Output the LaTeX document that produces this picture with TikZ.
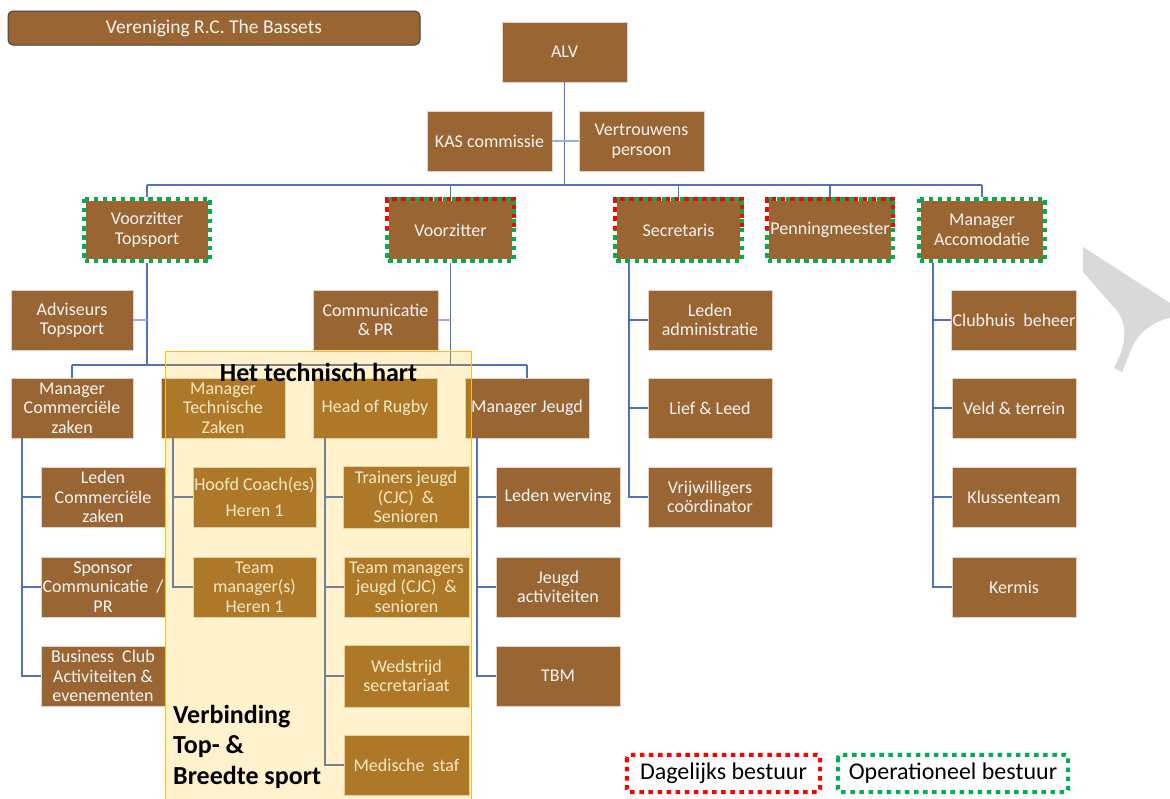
\documentclass[tikz,border=0pt]{standalone}
\usepackage{fontspec}
\setmainfont{Carlito}
\definecolor{brownbox}{RGB}{153,102,51}
\definecolor{boxtext}{RGB}{244,244,244}
\definecolor{linec}{RGB}{82,114,182}
\definecolor{linelight}{RGB}{150,175,222}
\definecolor{dred}{RGB}{255,0,0}
\definecolor{dgreen}{RGB}{0,176,80}
\definecolor{ovl}{RGB}{255,192,0}
\definecolor{wm}{RGB}{217,217,217}
\newcommand\boxfont{\fontsize{18}{19.5}\selectfont}
\begin{document}
\begin{tikzpicture}[x=1pt,y=-1pt,
  box/.style={draw=white!72!brownbox, line width=0.6pt, fill=brownbox, text=boxtext,
    minimum width=124pt, minimum height=60pt, inner sep=1pt, align=center, font=\boxfont},
  lvltwo/.style={box, draw=none, minimum width=126pt, minimum height=62pt},
  trunk/.style={draw=linec, line width=1.3pt},
  branch/.style={draw=linelight, line width=1.3pt},
  greendots/.style={draw=dgreen, line width=4pt, dash pattern=on 4.5pt off 4.6pt},
  reddots/.style={draw=dred, line width=4pt, dash pattern=on 4.5pt off 4.6pt},
  whiteframe/.style={draw=white, line width=4pt},
  bigbold/.style={font=\fontsize{26}{30.5}\selectfont\bfseries, text=black},
  legendtext/.style={font=\fontsize{24}{28}\selectfont, text=black, inner sep=0pt}
]
\useasboundingbox (0,0) rectangle (1170,798);

% watermark shape
\fill[wm] (1083,247) -- (1170,303) -- (1170,318) .. controls (1150,322) and (1137,335) .. (1131,350)
  -- (1122,372) -- (1114,368) .. controls (1126,345) and (1128,328) .. (1118,312) -- (1083,272) -- cycle;

% title
\node[draw=black!75, line width=1pt, fill=brownbox, rounded corners=5pt, text=boxtext,
  minimum width=412pt, minimum height=34pt, inner sep=0pt, font=\fontsize{19.5}{22}\selectfont]
  (title) at (214,28) {Vereniging R.C. The Bassets};

% top
\node[box, minimum width=125pt] (alv) at (564.5,52) {ALV};
\node[box, minimum width=125pt] (kas) at (489.5,141) {KAS commissie};
\node[box, minimum width=125pt] (ver) at (641.5,141) {Vertrouwens\\persoon};

% level two
\node[lvltwo] (vzt) at (147,230) {Voorzitter\\Topsport};
\node[lvltwo] (vz)  at (450.5,230) {Voorzitter};
\node[lvltwo] (sec) at (678.5,230) {Secretaris};
\node[lvltwo] (pm)  at (830,230) {Penningmeester};
\node[lvltwo] (ma)  at (982,230) {Manager\\Accomodatie};

% row 320
\node[box, minimum width=122pt] (adv) at (72,320) {Adviseurs\\Topsport};
\node[box, minimum width=125pt] (com) at (375.5,320) {Communicatie\\\&~PR};
\node[box] (la)  at (710,320) {Leden\\administratie};
\node[box] (cb)  at (1014,320) {Clubhuis\ \ beheer};

% row 408
\node[box, minimum width=122pt] (mcz) at (72,408) {Manager\\Commerciële\\zaken};
\node[box] (mtz) at (223,408) {Manager\\Technische\\Zaken};
\node[box] (hor) at (375,408) {Head of Rugby};
\node[box] (mj)  at (527,408) {Manager Jeugd};
\node[box] (ll)  at (710,408) {Lief \& Leed};
\node[box] (vt)  at (1014,408) {Veld \& terrein};

% row 497
\node[box] (lcz) at (103,497) {Leden\\Commerciële\\zaken};
\node[box, minimum width=123pt] (hc)  at (254.5,497) {Hoofd Coach(es)\\[7pt]Heren 1};
\node[box, minimum width=126pt, minimum height=62pt] (tj)  at (406,497) {Trainers jeugd\\(CJC)~ \&\\Senioren};
\node[box] (lw)  at (558,497) {Leden werving};
\node[box] (vc)  at (710,497) {Vrijwilligers\\coördinator};
\node[box] (kt)  at (1014,497) {Klussenteam};

% row 587
\node[box] (sc)  at (103,587) {Sponsor\\Communicatie~ /\\PR};
\node[box, minimum width=123pt] (tm)  at (254.5,587) {Team\\manager(s)\\Heren 1};
\node[box, minimum width=125pt] (tmj) at (406.5,587) {Team managers\\jeugd (CJC)~ \&\\senioren};
\node[box] (ja)  at (558,587) {Jeugd\\activiteiten};
\node[box] (km)  at (1014,587) {Kermis};

% row 676
\node[box] (bc)  at (103,676) {Business~ Club\\Activiteiten \&\\evenementen};
\node[box, minimum width=125pt, minimum height=62pt] (ws)  at (406.5,676) {Wedstrijd\\secretariaat};
\node[box] (tbm) at (558,676) {TBM};

% row 765
\node[box, minimum width=125pt] (ms)  at (406.5,765) {Medische~ staf};

% bus coordinates
\coordinate (busa) at (0,185);
\coordinate (busb) at (0,365);

% top connectors
\draw[trunk] (alv.south) -- (alv.south |- busa);
\draw[branch] (kas.east) -- (ver.west);
\draw[trunk] (vzt.north |- busa) -- (ma.north |- busa);
\foreach \n in {vzt,vz,sec,pm,ma} {\draw[trunk] (\n.north |- busa) -- (\n.north);}

% voorzitter topsport / voorzitter trunks
\draw[trunk] (vzt.south) -- (vzt.south |- busb);
\draw[branch] (adv.east) -- (adv.east -| vzt.south);
\draw[trunk] (vz.south) -- (vz.south |- busb);
\draw[branch] (com.east) -- (com.east -| vz.south);
\draw[trunk] (mcz.north |- busb) -- (mj.north |- busb);
\foreach \n in {mcz,mtz,hor,mj} {\draw[trunk] (\n.north |- busb) -- (\n.north);}

% sub trunks
\coordinate (tmcz) at ([xshift=-50pt]mcz.south);
\draw[trunk] (tmcz) |- (bc.west);
\foreach \n in {lcz,sc} {\draw[trunk] (tmcz |- \n.west) -- (\n.west);}

\coordinate (tmtz) at ([xshift=-50pt]mtz.south);
\draw[trunk] (tmtz) |- (tm.west);
\draw[trunk] (tmtz |- hc.west) -- (hc.west);

\coordinate (thor) at ([xshift=-50pt]hor.south);
\draw[trunk] (thor) |- (ms.west);
\foreach \n in {tj,tmj,ws} {\draw[trunk] (thor |- \n.west) -- (\n.west);}

\coordinate (tmj) at ([xshift=-50pt]mj.south);
\draw[trunk] (tmj) |- (tbm.west);
\foreach \n in {lw,ja} {\draw[trunk] (tmj |- \n.west) -- (\n.west);}

\coordinate (tsec) at ([xshift=-49.5pt]sec.south);
\draw[trunk] (tsec) |- (vc.west);
\foreach \n in {la,ll} {\draw[trunk] (tsec |- \n.west) -- (\n.west);}

\coordinate (tma) at ([xshift=-49pt]ma.south);
\draw[trunk] (tma) |- (km.west);
\foreach \n in {cb,vt,kt} {\draw[trunk] (tma |- \n.west) -- (\n.west);}

% dotted frames
\foreach \n in {vzt,vz,sec,pm,ma} {
  \draw[whiteframe] (\n.north west) rectangle (\n.south east);
  \draw[greendots] (\n.north west) rectangle (\n.south east);
}
\foreach \n in {vz,sec,pm} {
  \draw[reddots] (\n.west) -- (\n.north west) -- (\n.north east) -- (\n.east);
}

% technical heart overlay
\fill[ovl, fill opacity=0.2] (165,351) rectangle (471,802);
\draw[ovl, line width=1pt] (165,802) -- (165,351) -- (471,351) -- (471,802);
\node[bigbold, inner sep=0pt] (hart) at (318.5,372) {Het technisch hart};
\node[bigbold, anchor=north west, align=left, inner sep=0pt] (verb) at (173,705)
  {Verbinding\\Top- \&\\Breedte sport};

% legend
\node[legendtext, minimum width=193pt, minimum height=37pt] (dag) at (723.5,773.5) {Dagelijks bestuur};
\draw[whiteframe] (dag.north west) rectangle (dag.south east);
\draw[reddots, rounded corners=3pt] (dag.north west) rectangle (dag.south east);
\node[legendtext, minimum width=230pt, minimum height=37pt] (op) at (953,773.5) {Operationeel bestuur};
\draw[greendots, rounded corners=3pt] (op.north west) rectangle (op.south east);
\end{tikzpicture}
\end{document}
